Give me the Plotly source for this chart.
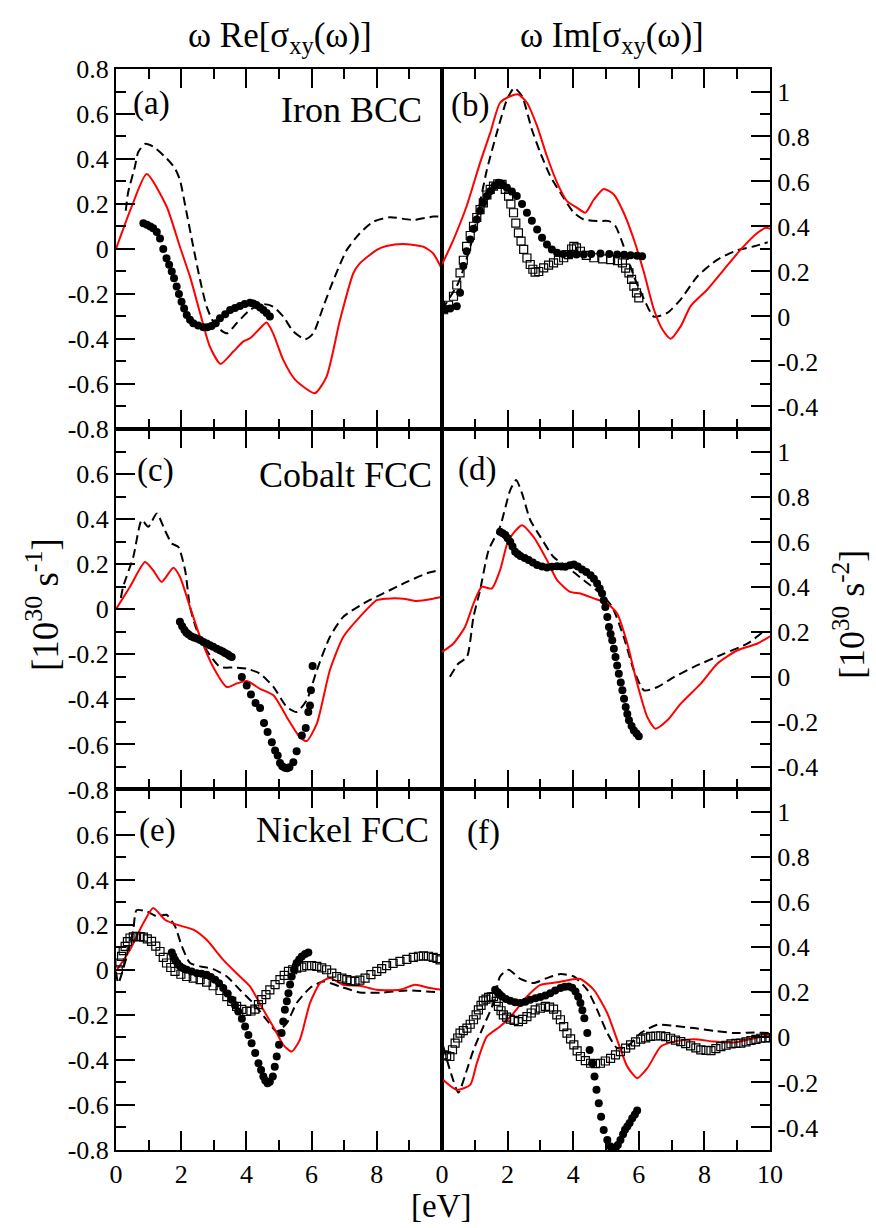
import plotly.graph_objects as go

# ---------------- data ----------------
# Panel (a): Iron BCC, omega*Re[sigma_xy]
A_RED_X = [0, 0.48, 0.94, 1.55, 1.96, 2.27, 2.58, 2.88, 3.21, 3.6, 3.9, 4.11, 4.37, 4.62, 4.82, 5.13, 5.5, 6.1, 6.46, 6.87, 7.28, 7.48, 8.0, 8.3, 8.81, 9.43, 9.73, 10.0]
A_RED_Y = [0.0, 0.188, 0.333, 0.19, 0.01, -0.123, -0.285, -0.434, -0.511, -0.456, -0.412, -0.397, -0.36, -0.327, -0.375, -0.493, -0.582, -0.641, -0.567, -0.316, -0.108, -0.064, -0.004, 0.013, 0.022, 0.01, -0.02, -0.09]
A_DASH_X = [0.3, 0.37, 0.58, 0.68, 0.89, 1.14, 1.55, 1.81, 1.96, 2.17, 2.37, 2.58, 2.78, 3.04, 3.4, 3.7, 4.11, 4.52, 4.82, 5.13, 5.44, 5.8, 6.05, 6.36, 6.67, 7.08, 7.48, 7.89, 8.4, 9.11, 9.73, 10.0]
A_DASH_Y = [0.17, 0.25, 0.366, 0.43, 0.467, 0.455, 0.403, 0.358, 0.307, 0.158, 0.01, -0.138, -0.256, -0.338, -0.375, -0.33, -0.271, -0.245, -0.256, -0.3, -0.367, -0.401, -0.375, -0.256, -0.138, -0.004, 0.07, 0.121, 0.141, 0.129, 0.144, 0.144]
A_DOT_X = [0.84, 0.95, 1.05, 1.14, 1.25, 1.35, 1.45, 1.55, 1.63, 1.71, 1.78, 1.86, 1.93, 2.01, 2.09, 2.17, 2.27, 2.37, 2.52, 2.68, 2.8, 2.93, 3.06, 3.19, 3.35, 3.5, 3.65, 3.8, 3.95, 4.11, 4.21, 4.31, 4.42, 4.52, 4.62, 4.72]
A_DOT_Y = [0.114, 0.108, 0.1, 0.092, 0.075, 0.047, 0.0, -0.041, -0.07, -0.1, -0.13, -0.167, -0.2, -0.234, -0.265, -0.293, -0.315, -0.33, -0.34, -0.348, -0.348, -0.342, -0.33, -0.308, -0.29, -0.271, -0.262, -0.253, -0.245, -0.239, -0.242, -0.249, -0.26, -0.271, -0.285, -0.3]

# Panel (b): Iron BCC, omega*Im[sigma_xy]
B_RED_X = [0.0, 0.35, 0.75, 1.16, 1.47, 1.77, 2.08, 2.33, 2.59, 2.9, 3.2, 3.51, 3.81, 4.12, 4.37, 4.63, 4.93, 5.24, 5.54, 5.85, 6.16, 6.46, 6.72, 6.97, 7.28, 7.58, 8.09, 8.6, 9.11, 9.62, 9.88, 10.0]
B_RED_Y = [0.231, 0.342, 0.49, 0.683, 0.816, 0.95, 0.979, 0.987, 0.95, 0.846, 0.712, 0.594, 0.513, 0.483, 0.461, 0.52, 0.567, 0.542, 0.461, 0.342, 0.194, 0.031, -0.058, -0.099, -0.043, 0.046, 0.12, 0.209, 0.298, 0.372, 0.394, 0.39]
B_DASH_X = [0.0, 0.5, 0.9, 1.15, 1.37, 1.67, 1.98, 2.2, 2.44, 2.74, 3.0, 3.3, 3.61, 4.02, 4.32, 4.73, 5.09, 5.29, 5.54, 5.85, 6.16, 6.46, 6.87, 7.28, 7.79, 8.4, 9.01, 9.52, 9.93]
B_DASH_Y = [0.03, 0.15, 0.33, 0.5, 0.653, 0.816, 0.964, 1.016, 0.979, 0.831, 0.727, 0.624, 0.55, 0.461, 0.431, 0.424, 0.424, 0.401, 0.312, 0.179, 0.076, -0.001, 0.016, 0.076, 0.179, 0.253, 0.295, 0.312, 0.33]
B_DOT_X = [0.09, 0.25, 0.45, 0.55, 0.65, 0.75, 0.86, 0.96, 1.06, 1.16, 1.26, 1.37, 1.47, 1.6, 1.72, 1.85, 1.98, 2.13, 2.28, 2.44, 2.59, 2.74, 2.9, 3.05, 3.2, 3.35, 3.51, 3.7, 3.91, 4.1, 4.32, 4.55, 4.83, 5.1, 5.34, 5.55, 5.75, 5.95, 6.1]
B_DOT_Y = [0.031, 0.035, 0.046, 0.105, 0.224, 0.29, 0.342, 0.39, 0.431, 0.47, 0.505, 0.535, 0.557, 0.58, 0.594, 0.585, 0.572, 0.555, 0.535, 0.5, 0.461, 0.425, 0.387, 0.35, 0.32, 0.298, 0.283, 0.278, 0.276, 0.276, 0.276, 0.278, 0.28, 0.278, 0.276, 0.274, 0.272, 0.27, 0.268]
B_SQ_X = [0.05, 0.2, 0.35, 0.45, 0.55, 0.65, 0.75, 0.86, 0.96, 1.06, 1.16, 1.26, 1.37, 1.47, 1.57, 1.7, 1.83, 1.93, 2.03, 2.1, 2.18, 2.25, 2.33, 2.41, 2.49, 2.59, 2.69, 2.77, 2.84, 2.95, 3.1, 3.25, 3.4, 3.55, 3.71, 3.85, 3.95, 4.02, 4.1, 4.22, 4.4, 4.63, 4.9, 5.14, 5.35, 5.5, 5.6, 5.7, 5.78, 5.85, 5.93, 6.0]
B_SQ_Y = [0.03, 0.05, 0.09, 0.14, 0.194, 0.25, 0.312, 0.36, 0.401, 0.44, 0.475, 0.505, 0.54, 0.565, 0.579, 0.59, 0.587, 0.565, 0.535, 0.5, 0.461, 0.415, 0.372, 0.335, 0.298, 0.26, 0.231, 0.21, 0.197, 0.2, 0.216, 0.228, 0.238, 0.25, 0.261, 0.275, 0.3, 0.312, 0.305, 0.29, 0.272, 0.261, 0.256, 0.253, 0.248, 0.238, 0.215, 0.194, 0.165, 0.135, 0.105, 0.083]

# Panel (c): Cobalt FCC, omega*Re[sigma_xy]
C_RED_X = [0.0, 0.43, 0.89, 1.14, 1.4, 1.76, 1.96, 2.27, 2.58, 2.98, 3.4, 3.7, 4.01, 4.42, 4.83, 5.24, 5.64, 5.85, 6.16, 6.56, 6.97, 7.48, 8.0, 8.3, 8.81, 9.22, 9.73, 10.0]
C_RED_Y = [0.0, 0.1, 0.21, 0.173, 0.121, 0.184, 0.144, 0.01, -0.123, -0.256, -0.345, -0.33, -0.319, -0.353, -0.382, -0.479, -0.568, -0.585, -0.508, -0.271, -0.123, -0.034, 0.04, 0.047, 0.047, 0.037, 0.047, 0.055]
C_DASH_X = [0.15, 0.22, 0.53, 0.79, 0.99, 1.25, 1.5, 1.71, 1.91, 2.12, 2.27, 2.48, 2.78, 3.19, 3.6, 4.01, 4.42, 4.83, 5.24, 5.54, 5.85, 6.16, 6.56, 6.97, 7.59, 8.2, 8.92, 9.53, 10.0]
C_DASH_Y = [0.05, 0.1, 0.232, 0.396, 0.366, 0.425, 0.351, 0.292, 0.277, 0.173, 0.01, -0.093, -0.182, -0.256, -0.259, -0.264, -0.286, -0.345, -0.434, -0.456, -0.404, -0.271, -0.123, -0.034, 0.025, 0.07, 0.121, 0.159, 0.176]
C_DOT_X = [1.96, 2.03, 2.1, 2.16, 2.22, 2.3, 2.39, 2.48, 2.58, 2.68, 2.78, 2.88, 2.98, 3.09, 3.19, 3.27, 3.34, 3.42, 3.48, 3.55, 3.86, 4.01, 4.14, 4.28, 4.42, 4.54, 4.65, 4.78, 4.88, 4.96, 5.03, 5.1, 5.18, 5.25, 5.32, 5.44, 5.54, 5.7, 5.82, 5.9, 5.95, 5.98, 6.03]
C_DOT_Y = [-0.056, -0.075, -0.092, -0.104, -0.111, -0.12, -0.125, -0.13, -0.137, -0.145, -0.152, -0.16, -0.167, -0.175, -0.182, -0.188, -0.194, -0.2, -0.206, -0.212, -0.301, -0.338, -0.379, -0.416, -0.438, -0.505, -0.545, -0.59, -0.627, -0.649, -0.683, -0.697, -0.704, -0.706, -0.701, -0.679, -0.63, -0.56, -0.527, -0.456, -0.427, -0.36, -0.252]

# Panel (d): Cobalt FCC, omega*Im[sigma_xy]
D_RED_X = [0.0, 0.35, 0.7, 0.96, 1.21, 1.52, 1.77, 2.03, 2.44, 2.79, 3.2, 3.51, 3.91, 4.22, 4.63, 5.04, 5.34, 5.65, 5.95, 6.26, 6.51, 6.87, 7.28, 7.89, 8.4, 9.01, 9.62, 10.0]
D_RED_Y = [0.11, 0.148, 0.221, 0.325, 0.399, 0.392, 0.473, 0.607, 0.673, 0.621, 0.518, 0.429, 0.377, 0.37, 0.348, 0.325, 0.281, 0.148, -0.03, -0.179, -0.23, -0.193, -0.119, -0.03, 0.059, 0.118, 0.148, 0.18]
D_DASH_X = [0.24, 0.5, 0.76, 0.96, 1.16, 1.42, 1.77, 2.08, 2.26, 2.44, 2.69, 3.0, 3.4, 3.81, 4.32, 4.83, 5.19, 5.54, 5.85, 6.16, 6.57, 7.07, 7.68, 8.6, 9.32, 9.78]
D_DASH_Y = [0.0, 0.059, 0.088, 0.266, 0.384, 0.562, 0.666, 0.829, 0.873, 0.814, 0.696, 0.621, 0.532, 0.488, 0.429, 0.37, 0.31, 0.177, 0.029, -0.06, -0.045, -0.001, 0.044, 0.103, 0.148, 0.199]
D_DOT_X = [1.77, 1.85, 1.93, 2.0, 2.08, 2.15, 2.23, 2.31, 2.39, 2.52, 2.64, 2.77, 2.9, 3.05, 3.2, 3.35, 3.51, 3.64, 3.76, 3.9, 4.02, 4.14, 4.27, 4.4, 4.53, 4.63, 4.73, 4.81, 4.88, 4.93, 4.98, 5.04, 5.09, 5.14, 5.19, 5.24, 5.29, 5.34, 5.39, 5.45, 5.5, 5.55, 5.6, 5.65, 5.7, 5.78, 5.85, 5.93, 6.0]
D_DOT_Y = [0.644, 0.637, 0.629, 0.615, 0.599, 0.578, 0.555, 0.545, 0.536, 0.527, 0.518, 0.507, 0.496, 0.49, 0.485, 0.488, 0.491, 0.49, 0.488, 0.495, 0.499, 0.49, 0.476, 0.465, 0.451, 0.435, 0.414, 0.392, 0.37, 0.34, 0.31, 0.265, 0.221, 0.19, 0.162, 0.125, 0.088, 0.05, 0.014, -0.025, -0.06, -0.097, -0.134, -0.165, -0.193, -0.218, -0.238, -0.252, -0.264]

# Panel (e): Nickel FCC, omega*Re[sigma_xy]
E_RED_X = [0.0, 0.43, 0.84, 1.14, 1.5, 1.86, 2.37, 2.78, 3.29, 3.8, 4.11, 4.52, 4.88, 5.13, 5.39, 5.64, 5.95, 6.26, 6.56, 6.97, 7.48, 8.0, 8.71, 9.17, 9.63, 10.0]
E_RED_Y = [-0.007, 0.089, 0.207, 0.274, 0.222, 0.2, 0.178, 0.133, 0.044, -0.03, -0.074, -0.178, -0.267, -0.333, -0.363, -0.311, -0.148, -0.059, -0.037, -0.067, -0.071, -0.089, -0.089, -0.067, -0.081, -0.089]
E_DASH_X = [0.0, 0.07, 0.33, 0.53, 0.63, 0.94, 1.25, 1.55, 1.81, 2.02, 2.27, 2.58, 2.98, 3.4, 3.8, 4.21, 4.62, 4.93, 5.24, 5.54, 5.95, 6.36, 6.87, 7.48, 8.2, 8.92, 10.0]
E_DASH_Y = [-0.01, -0.059, 0.059, 0.178, 0.264, 0.259, 0.237, 0.244, 0.193, 0.104, 0.03, 0.015, 0.003, -0.03, -0.089, -0.148, -0.222, -0.274, -0.237, -0.148, -0.081, -0.052, -0.074, -0.101, -0.101, -0.092, -0.101]
E_DOT_X = [1.71, 1.76, 1.81, 1.88, 1.96, 2.06, 2.17, 2.32, 2.48, 2.63, 2.78, 2.91, 3.04, 3.16, 3.29, 3.42, 3.55, 3.65, 3.75, 3.86, 3.96, 4.06, 4.16, 4.27, 4.37, 4.45, 4.52, 4.58, 4.65, 4.72, 4.81, 4.87, 4.93, 5.0, 5.08, 5.13, 5.18, 5.24, 5.29, 5.34, 5.39, 5.46, 5.54, 5.62, 5.7, 5.8, 5.9]
E_DOT_Y = [0.077, 0.06, 0.044, 0.03, 0.015, 0.007, 0.0, -0.008, -0.015, -0.018, -0.022, -0.032, -0.044, -0.06, -0.081, -0.105, -0.133, -0.158, -0.185, -0.218, -0.252, -0.29, -0.326, -0.37, -0.415, -0.445, -0.474, -0.492, -0.504, -0.497, -0.474, -0.43, -0.385, -0.333, -0.281, -0.23, -0.178, -0.14, -0.104, -0.066, -0.03, 0.0, 0.03, 0.045, 0.059, 0.07, 0.077]
E_SQ_X = [0.07, 0.12, 0.17, 0.22, 0.28, 0.35, 0.43, 0.53, 0.63, 0.74, 0.84, 0.96, 1.09, 1.22, 1.35, 1.45, 1.55, 1.68, 1.81, 1.99, 2.17, 2.37, 2.58, 2.78, 2.98, 3.19, 3.4, 3.55, 3.7, 3.86, 4.01, 4.14, 4.26, 4.37, 4.47, 4.6, 4.72, 4.88, 5.03, 5.16, 5.29, 5.42, 5.54, 5.7, 5.85, 6.0, 6.16, 6.31, 6.46, 6.62, 6.77, 6.93, 7.08, 7.2, 7.33, 7.48, 7.64, 7.82, 8.0, 8.15, 8.3, 8.5, 8.71, 8.92, 9.12, 9.28, 9.43, 9.58, 9.73, 9.85, 9.94]
E_SQ_Y = [0.0, 0.03, 0.059, 0.085, 0.104, 0.125, 0.141, 0.146, 0.148, 0.147, 0.145, 0.137, 0.126, 0.105, 0.081, 0.055, 0.03, 0.01, -0.007, -0.02, -0.03, -0.037, -0.044, -0.055, -0.071, -0.092, -0.119, -0.14, -0.163, -0.176, -0.185, -0.183, -0.175, -0.155, -0.133, -0.11, -0.089, -0.066, -0.044, -0.025, -0.007, 0.0, 0.007, 0.012, 0.018, 0.018, 0.015, 0.008, 0.0, -0.015, -0.03, -0.037, -0.044, -0.049, -0.052, -0.046, -0.037, -0.022, -0.007, 0.005, 0.018, 0.028, 0.037, 0.046, 0.055, 0.06, 0.062, 0.06, 0.055, 0.05, 0.044]

# Panel (f): Nickel FCC, omega*Im[sigma_xy]
F_RED_X = [0.04, 0.45, 0.86, 1.06, 1.37, 1.77, 2.18, 2.59, 3.0, 3.51, 3.91, 4.22, 4.63, 5.04, 5.34, 5.65, 5.95, 6.26, 6.67, 7.07, 7.68, 8.3, 8.91, 9.52, 10.0]
F_RED_Y = [-0.189, -0.233, -0.211, -0.115, 0.004, 0.048, 0.107, 0.181, 0.233, 0.244, 0.256, 0.259, 0.211, 0.107, -0.011, -0.13, -0.181, -0.137, -0.041, -0.019, -0.008, -0.019, -0.023, -0.004, 0.011]
F_DASH_X = [0.04, 0.24, 0.5, 0.76, 0.96, 1.26, 1.57, 1.77, 2.03, 2.39, 2.79, 3.2, 3.61, 4.02, 4.43, 4.73, 5.04, 5.34, 5.65, 6.06, 6.57, 7.07, 7.68, 8.3, 8.91, 9.52, 9.98]
F_DASH_Y = [-0.041, -0.144, -0.245, -0.144, -0.056, 0.048, 0.152, 0.27, 0.3, 0.259, 0.241, 0.263, 0.281, 0.27, 0.211, 0.122, 0.019, -0.048, -0.041, 0.019, 0.056, 0.051, 0.041, 0.029, 0.019, 0.021, 0.019]
F_DOT_X = [1.62, 1.7, 1.76, 1.83, 1.95, 2.08, 2.23, 2.39, 2.54, 2.69, 2.85, 3.0, 3.15, 3.3, 3.45, 3.61, 3.74, 3.86, 3.97, 4.07, 4.15, 4.22, 4.28, 4.34, 4.43, 4.5, 4.58, 4.65, 4.71, 4.78, 4.85, 4.93, 5.04, 5.14, 5.22, 5.29, 5.36, 5.44, 5.52, 5.58, 5.65, 5.72, 5.8, 5.88, 5.95]
F_DOT_Y = [0.211, 0.2, 0.19, 0.181, 0.17, 0.162, 0.156, 0.152, 0.158, 0.167, 0.173, 0.179, 0.186, 0.196, 0.208, 0.219, 0.224, 0.226, 0.22, 0.204, 0.18, 0.152, 0.12, 0.085, 0.019, -0.056, -0.115, -0.174, -0.233, -0.292, -0.352, -0.411, -0.456, -0.485, -0.495, -0.492, -0.478, -0.456, -0.43, -0.41, -0.396, -0.38, -0.359, -0.342, -0.325]
F_SQ_X = [0.04, 0.14, 0.24, 0.32, 0.4, 0.48, 0.55, 0.65, 0.76, 0.86, 0.96, 1.04, 1.11, 1.19, 1.26, 1.34, 1.42, 1.5, 1.57, 1.65, 1.72, 1.8, 1.87, 1.97, 2.08, 2.2, 2.33, 2.46, 2.59, 2.72, 2.84, 3.0, 3.15, 3.28, 3.4, 3.5, 3.61, 3.71, 3.81, 3.92, 4.02, 4.12, 4.22, 4.37, 4.53, 4.68, 4.83, 4.98, 5.14, 5.29, 5.44, 5.6, 5.75, 5.9, 6.06, 6.21, 6.36, 6.52, 6.67, 6.82, 6.97, 7.12, 7.28, 7.43, 7.58, 7.74, 7.89, 8.05, 8.2, 8.35, 8.5, 8.66, 8.81, 8.96, 9.11, 9.27, 9.42, 9.57, 9.72, 9.86, 10.0]
F_SQ_Y = [-0.078, -0.082, -0.085, -0.055, -0.026, -0.003, 0.019, 0.03, 0.041, 0.058, 0.078, 0.1, 0.122, 0.142, 0.162, 0.17, 0.177, 0.18, 0.181, 0.16, 0.137, 0.118, 0.1, 0.09, 0.081, 0.075, 0.07, 0.08, 0.092, 0.108, 0.122, 0.13, 0.137, 0.134, 0.125, 0.1, 0.078, 0.048, 0.019, -0.007, -0.033, -0.06, -0.085, -0.103, -0.115, -0.117, -0.115, -0.105, -0.093, -0.078, -0.063, -0.048, -0.033, -0.02, -0.008, -0.002, 0.004, 0.006, 0.007, 0.003, -0.004, -0.012, -0.019, -0.028, -0.038, -0.047, -0.056, -0.058, -0.059, -0.05, -0.041, -0.035, -0.029, -0.027, -0.026, -0.02, -0.014, -0.009, -0.004, -0.002, -0.001]

LEFT_TICKS = [-0.8, -0.6, -0.4, -0.2, 0.0, 0.2, 0.4, 0.6, 0.8]
LEFT_LABELS = ["-0.8", "-0.6", "-0.4", "-0.2", "0", "0.2", "0.4", "0.6", "0.8"]
RIGHT_TICKS = [-0.4, -0.2, 0.0, 0.2, 0.4, 0.6, 0.8, 1.0]
RIGHT_LABELS = ["-0.4", "-0.2", "0", "0.2", "0.4", "0.6", "0.8", "1"]
X_TICKS = [0, 2, 4, 6, 8, 10]
X_LABELS = ["0", "2", "4", "6", "8", "10"]

PANEL_LABELS = ["(a)", "(b)", "(c)", "(d)", "(e)", "(f)"]
MATERIALS = ["Iron BCC", "Cobalt FCC", "Nickel FCC"]
COL_TITLES = ["ω Re[σ<sub>xy</sub>(ω)]", "ω Im[σ<sub>xy</sub>(ω)]"]

# ---------------- figure ----------------
FONT = "Liberation Serif"
fig = go.Figure()

def ax(i):
    return ("x" if i == 1 else f"x{i}"), ("y" if i == 1 else f"y{i}")

def add_curve(i, x, y, dashed):
    xa, ya = ax(i)
    fig.add_trace(go.Scatter(
        x=x, y=y, xaxis=xa, yaxis=ya, mode="lines", showlegend=False, hoverinfo="skip",
        line=dict(color="black" if dashed else "#ff0000", width=2,
                  dash="9px,5px" if dashed else "solid", shape="spline", smoothing=0.6)))

def add_points(i, x, y, square):
    xa, ya = ax(i)
    if square:
        mk = dict(symbol="square-open", size=8, color="black", line=dict(width=1.2, color="black"))
    else:
        mk = dict(symbol="circle", size=8, color="black", line=dict(width=0))
    fig.add_trace(go.Scatter(x=x, y=y, xaxis=xa, yaxis=ya, mode="markers",
                             marker=mk, showlegend=False, hoverinfo="skip", cliponaxis=True))

add_curve(1, A_DASH_X, A_DASH_Y, True); add_curve(1, A_RED_X, A_RED_Y, False); add_points(1, A_DOT_X, A_DOT_Y, False)
add_curve(2, B_DASH_X, B_DASH_Y, True); add_curve(2, B_RED_X, B_RED_Y, False)
add_points(2, B_SQ_X, B_SQ_Y, True); add_points(2, B_DOT_X, B_DOT_Y, False)
add_curve(3, C_DASH_X, C_DASH_Y, True); add_curve(3, C_RED_X, C_RED_Y, False); add_points(3, C_DOT_X, C_DOT_Y, False)
add_curve(4, D_DASH_X, D_DASH_Y, True); add_curve(4, D_RED_X, D_RED_Y, False); add_points(4, D_DOT_X, D_DOT_Y, False)
add_curve(5, E_DASH_X, E_DASH_Y, True); add_curve(5, E_RED_X, E_RED_Y, False)
add_points(5, E_SQ_X, E_SQ_Y, True); add_points(5, E_DOT_X, E_DOT_Y, False)
add_curve(6, F_DASH_X, F_DASH_Y, True); add_curve(6, F_RED_X, F_RED_Y, False)
add_points(6, F_SQ_X, F_SQ_Y, True); add_points(6, F_DOT_X, F_DOT_Y, False)

FX = 326 / 654
ROWS = [[0.667, 1.0], [0.3335, 0.667], [0.0, 0.3335]]
tickfont = dict(family=FONT, size=26, color="black")
common = dict(showline=True, linecolor="black", linewidth=2, ticks="inside", ticklen=19,
              tickwidth=1.6, tickcolor="black", showgrid=False, zeroline=False, tickfont=tickfont,
              fixedrange=True)

layout = {}
for i in range(1, 7):
    row, col = (i - 1) // 2, (i - 1) % 2
    key_x = "xaxis" if i == 1 else f"xaxis{i}"
    key_y = "yaxis" if i == 1 else f"yaxis{i}"
    xa, ya = ax(i)
    if row == 2:
        tv = X_TICKS if col == 1 else X_TICKS[:-1]
        tt = X_LABELS if col == 1 else X_LABELS[:-1]
        show = True
    else:
        tv, tt, show = X_TICKS, X_LABELS, False
    layout[key_x] = dict(common, domain=[0, FX] if col == 0 else [FX, 1], anchor=ya, range=[0, 10],
                         mirror="ticks", tickmode="array", tickvals=tv, ticktext=tt,
                         showticklabels=show,
                         minor=dict(tickmode="array", tickvals=[1, 3, 5, 7, 9], ticks="inside",
                                    ticklen=10, tickwidth=1.6, tickcolor="black", showgrid=False))
    if col == 0:
        if row == 0:
            yv, yt = LEFT_TICKS, LEFT_LABELS
        else:
            yv, yt = LEFT_TICKS[:-1], LEFT_LABELS[:-1]
        yr = [-0.8, 0.8]
        minor_v = [-0.7, -0.5, -0.3, -0.1, 0.1, 0.3, 0.5, 0.7]
        side = "left"
    else:
        yv, yt = RIGHT_TICKS, RIGHT_LABELS
        yr = [-0.5, 1.1]
        minor_v = [-0.3, -0.1, 0.1, 0.3, 0.5, 0.7, 0.9]
        side = "right"
    layout[key_y] = dict(common, domain=ROWS[row], anchor=xa, range=yr, side=side, mirror=True,
                         tickmode="array", tickvals=yv, ticktext=yt,
                         minor=dict(tickmode="array", tickvals=minor_v, ticks="inside",
                                    ticklen=10, tickwidth=1.6, tickcolor="black", showgrid=False))

def px2paper(px, py):
    return (px - 116) / 654, (1150 - py) / 1081

annotations = []
def add_text(text, px, py, size, angle=0, xanchor="center", yanchor="middle"):
    x, y = px2paper(px, py)
    annotations.append(dict(text=text, x=x, y=y, xref="paper", yref="paper", showarrow=False,
                            xanchor=xanchor, yanchor=yanchor, textangle=angle,
                            font=dict(family=FONT, size=size, color="black")))

add_text(COL_TITLES[0], 280, 38, 35)
add_text(COL_TITLES[1], 612, 38, 35)
add_text("[eV]", 441, 1226, 33, yanchor="bottom")
add_text("[10<sup>30</sup> s<sup>-1</sup>]", 42, 605, 37, -90)
add_text("[10<sup>30</sup> s<sup>-2</sup>]", 850, 615, 36, -90)
label_pos = [(151, 103), (470, 106), (155, 471), (477, 469), (157, 830), (483, 832)]
for lab, (px, py) in zip(PANEL_LABELS, label_pos):
    add_text(lab, px, py, 33)
mat_pos = [(424, 110), (434, 475), (431, 830)]
for m, (px, py) in zip(MATERIALS, mat_pos):
    add_text(m, px, py, 36, xanchor="right")

fig.update_layout(
    width=876, height=1228, autosize=False,
    margin=dict(l=116, r=106, t=69, b=78),
    paper_bgcolor="white", plot_bgcolor="white",
    showlegend=False, annotations=annotations, **layout)

fig.write_html("out.html", config=dict(displayModeBar=False),
               post_script="document.body.style.margin='0';document.body.style.overflow='hidden';")
